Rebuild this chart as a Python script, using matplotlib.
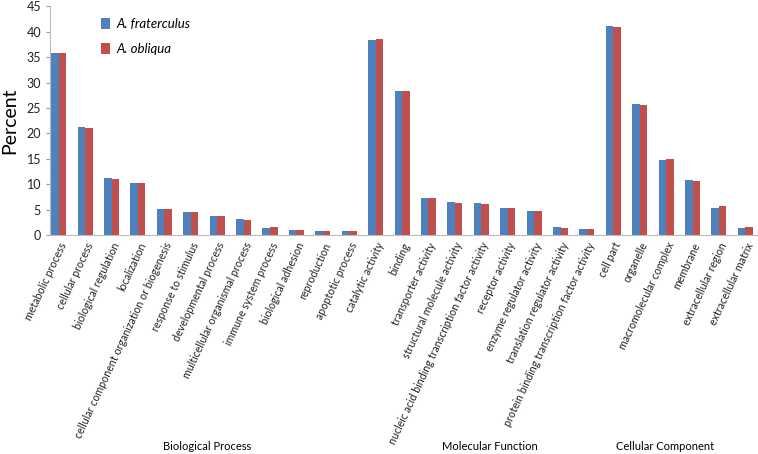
import matplotlib.pyplot as plt
import numpy as np

plt.rcParams["font.family"] = ["Lato", "DejaVu Sans"]

# GO terms, grouped by ontology
bio_process = ["metabolic process", "cellular process", "biological regulation", "localization",
               "cellular component organization or biogenesis", "response to stimulus",
               "developmental process", "multicellular organismal process", "immune system process",
               "biological adhesion", "reproduction", "apoptotic process"]
mol_function = ["catalytic activity", "binding", "transporter activity", "structural molecule activity",
                "nucleic acid binding transcription factor activity", "receptor activity",
                "enzyme regulator activity", "translation regulator activity",
                "protein binding transcription factor activity"]
cell_component = ["cell part", "organelle", "macromolecular complex", "membrane",
                  "extracellular region", "extracellular matrix"]
categories = bio_process + mol_function + cell_component

fraterculus = [35.9, 21.3, 11.3, 10.2, 5.2, 4.6, 3.8, 3.1, 1.4, 1.0, 0.9, 0.9,
               38.3, 28.4, 7.3, 6.5, 6.4, 5.3, 4.7, 1.6, 1.2,
               41.2, 25.7, 14.8, 10.9, 5.4, 1.4]
obliqua = [35.9, 21.1, 11.1, 10.3, 5.2, 4.6, 3.8, 3.0, 1.7, 1.0, 0.9, 0.9,
           38.5, 28.4, 7.4, 6.4, 6.2, 5.3, 4.8, 1.4, 1.2,
           41.0, 25.6, 14.9, 10.7, 5.7, 1.6]

group_names = ["Biological Process", "Molecular Function", "Cellular Component"]

fig = plt.figure(figsize=(7.58, 4.54), dpi=100)
ax = fig.add_axes([0.066, 0.482, 0.933, 0.504])

x = np.arange(len(categories))
w = 0.285
ax.bar(x - w / 2, fraterculus, w, color="#4F81BD", label="A. fraterculus")
ax.bar(x + w / 2, obliqua, w, color="#C0504D", label="A. obliqua")

ax.set_xlim(-0.33, len(categories) - 0.55)
ax.set_ylim(0, 45)
ax.set_yticks(np.arange(0, 46, 5))
ax.tick_params(axis="y", labelsize=9, length=3, color="#999999", labelcolor="#222222")
ax.set_xticks(x)
ax.set_xticklabels(categories, rotation=65, ha="right", rotation_mode="anchor",
                   fontsize=7.7, color="#222222")
ax.tick_params(axis="x", length=0, pad=4)

for s in ["top", "right"]:
    ax.spines[s].set_visible(False)
ax.spines["left"].set_color("#BBBBBB")
ax.spines["bottom"].set_color("#BBBBBB")

ax.set_ylabel("Percent", fontsize=14, labelpad=6)

leg = ax.legend(loc="upper left", bbox_to_anchor=(0.055, 1.0), frameon=False,
                prop={"style": "italic", "size": 9.5}, handlelength=0.7, handleheight=0.9,
                labelspacing=1.0, handletextpad=0.5)

# ontology group labels along the bottom
group_x = [207, 490, 665]
for name, gx in zip(group_names, group_x):
    fig.text(gx / 758, 1 - 447 / 454, name, ha="center", va="center", fontsize=8)

fig.savefig("out.png", dpi=100)
